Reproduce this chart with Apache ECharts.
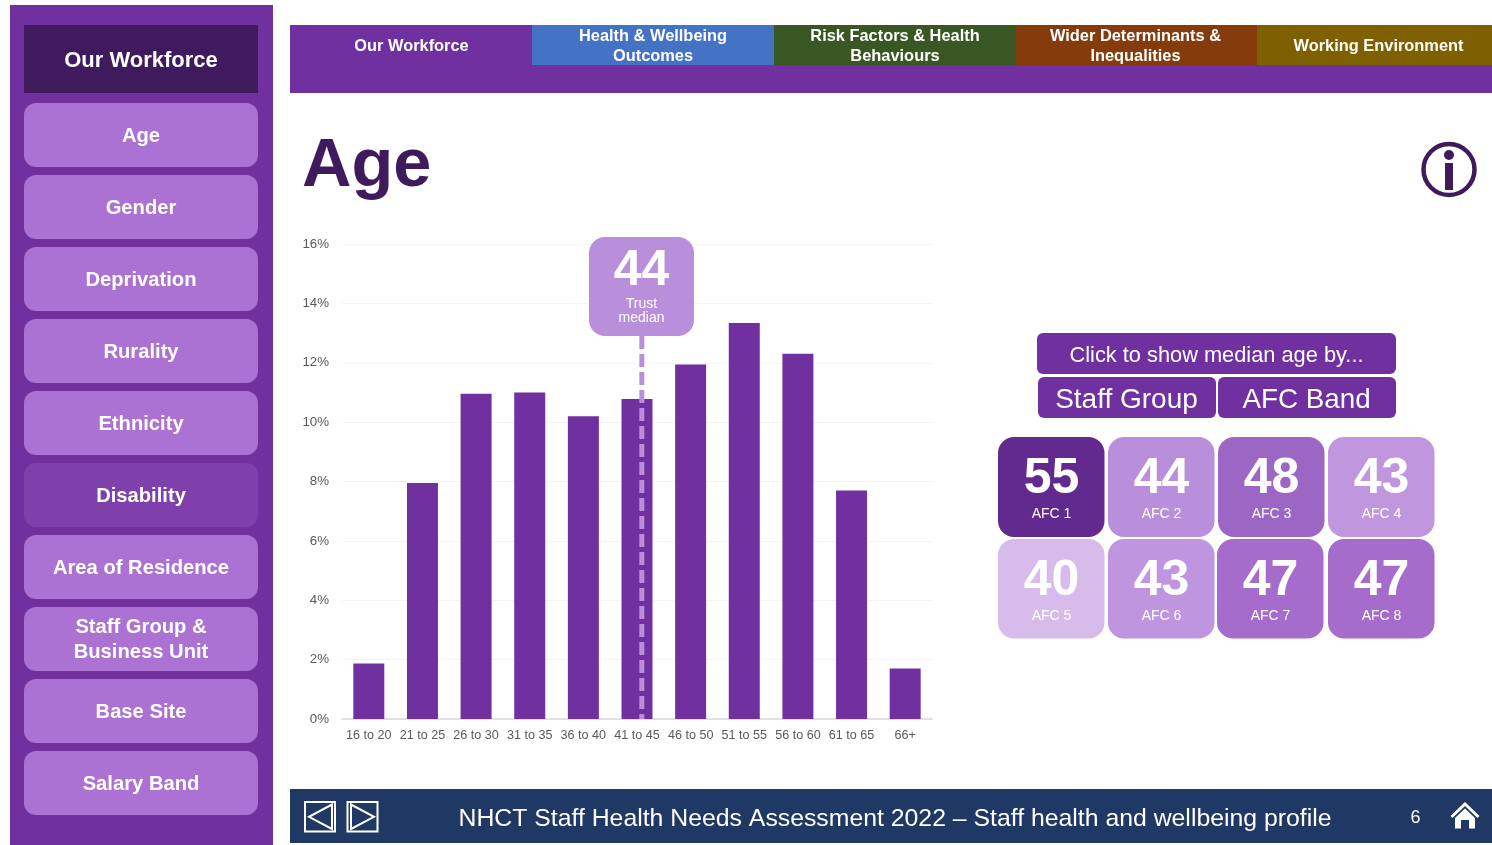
<!DOCTYPE html>
<html>
<head>
<meta charset="utf-8">
<title>Age</title>
<script src="https://cdn.jsdelivr.net/npm/echarts@6/dist/echarts.min.js"></script>
<style>
  html, body { margin: 0; padding: 0; background: #fff; }
  #chart { width: 1492px; height: 845px; }
</style>
</head>
<body>
<div id="chart"></div>
<script>
// chart data
const ageBands = ['16 to 20', '21 to 25', '26 to 30', '31 to 35', '36 to 40', '41 to 45', '46 to 50', '51 to 55', '56 to 60', '61 to 65', '66+'];
const agePercent = [1.87, 7.95, 10.96, 11.0, 10.2, 10.78, 11.94, 13.34, 12.3, 7.7, 1.7];
const trustMedian = 44;
const afcBands = ['AFC 1', 'AFC 2', 'AFC 3', 'AFC 4', 'AFC 5', 'AFC 6', 'AFC 7', 'AFC 8'];
const afcMedians = [55, 44, 48, 43, 40, 43, 47, 47];

// page text
const sideItems = ['Age', 'Gender', 'Deprivation', 'Rurality', 'Ethnicity', 'Disability', 'Area of Residence', 'Staff Group &\nBusiness Unit', 'Base Site', 'Salary Band'];
const tabLabels = ['Our Workforce', 'Health & Wellbeing\nOutcomes', 'Risk Factors & Health\nBehaviours', 'Wider Determinants &\nInequalities', 'Working Environment'];
const footerText = 'NHCT Staff Health Needs Assessment 2022 \u2013 Staff health and wellbeing profile';

// layout and colours
const PURPLE = '#7030a0', DARK = '#3f1b5e', LIGHT = '#ab72d4', NAVY = '#1f3864', FONT = '"Liberation Sans", Arial, sans-serif';
const sideTops = [103, 175, 247, 319, 391, 463, 535, 607, 679, 751];
const tabEdges = [290, 532, 774, 1016, 1257, 1492];
const tabTextX = [411.5, 653, 895, 1135.5, 1378.5];
const tabColors = [PURPLE, '#4472c4', '#385723', '#843c0c', '#7f6000'];
const tileX = [[998, 1108, 1218, 1328], [998, 1108, 1217, 1328]];
const tileColors = ['#622a8e', '#b98edb', '#9c66c4', '#c096df', '#d6bbeb', '#be95de', '#a56ccb', '#a56ccb'];

function box(x, y, w, h, fill, r) {
  return { type: 'rect', shape: { x, y, width: w, height: h, r: r || 0 }, style: { fill } };
}
function label(x, y, text, size, weight, extra) {
  return {
    type: 'text', x, y, z: 5,
    style: Object.assign({ text, fill: '#fff', font: (weight || 'normal') + ' ' + size + 'px ' + FONT, align: 'center', verticalAlign: 'middle', lineHeight: size * 1.2 }, extra || {})
  };
}

const g = [];

// left menu
g.push(box(10, 5, 263, 840, PURPLE));
g.push(box(24, 25, 234, 68, DARK));
g.push(label(141, 60.5, 'Our Workforce', 22, 'bold'));
sideItems.forEach((t, i) => {
  g.push(box(24, sideTops[i], 234, 64, t === 'Disability' ? '#8040ab' : LIGHT, 12));
  g.push(label(141, sideTops[i] + 33, t, 20.2, 'bold', { lineHeight: 25 }));
});

// top tabs
g.push(box(290, 25, 1202, 68, PURPLE));
tabLabels.forEach((t, i) => {
  const w = tabEdges[i + 1] - tabEdges[i];
  g.push(box(tabEdges[i], 25, w, 40, tabColors[i]));
  g.push(label(tabTextX[i], 46, t, 16.4, 'bold', { lineHeight: 20 }));
});

// title and info icon
g.push(label(302, 167, 'Age', 68.5, 'bold', { fill: DARK, align: 'left' }));
g.push({ type: 'circle', shape: { cx: 1449, cy: 169.5, r: 25.5 }, style: { fill: '#fff', stroke: DARK, lineWidth: 4.5 } });
g.push({ type: 'circle', shape: { cx: 1449, cy: 155, r: 5 }, style: { fill: DARK } });
g.push(box(1445, 163, 8, 27, DARK));

// median callout, sits on top of the dashed line
g.push(Object.assign(box(589, 237, 105, 99, '#b98edb', 16), { z: 4 }));
g.push(label(641.5, 271, String(trustMedian), 50, 'bold'));
g.push(label(641.5, 311, 'Trust\nmedian', 14, 'normal', { lineHeight: 14 }));

// median age buttons
g.push(box(1037, 333, 359, 41, PURPLE, 6));
g.push(label(1216.5, 356, 'Click to show median age by...', 21.8));
g.push(box(1038, 377, 178, 41, PURPLE, 6));
g.push(label(1126.5, 400, 'Staff Group', 28));
g.push(box(1218, 377, 178, 41, PURPLE, 6));
g.push(label(1306.5, 400, 'AFC Band', 27.8));

// AFC tiles
afcBands.forEach((band, i) => {
  const row = i < 4 ? 0 : 1;
  const x = tileX[row][i % 4];
  const y = row ? 539 : 437;
  g.push(box(x, y, 106.5, row ? 99.5 : 100, tileColors[i], 16));
  g.push(label(x + 53.5, y + 42, String(afcMedians[i]), 50, 'bold'));
  g.push(label(x + 53.5, y + 77, band, 14));
});

// footer
g.push(box(290, 789, 1202, 54, NAVY));
g.push(label(895, 819, footerText, 24.8));
g.push(label(1415.5, 818.5, '6', 18));
g.push({ type: 'rect', shape: { x: 305, y: 802, width: 30, height: 29.5 }, style: { fill: 'none', stroke: '#fff', lineWidth: 2 } });
g.push({ type: 'polygon', shape: { points: [[332, 804.5], [332, 829], [309, 816.8]] }, style: { fill: 'none', stroke: '#fff', lineWidth: 2 } });
g.push({ type: 'rect', shape: { x: 347.5, y: 802, width: 30, height: 29.5 }, style: { fill: 'none', stroke: '#fff', lineWidth: 2 } });
g.push({ type: 'polygon', shape: { points: [[351, 804.5], [351, 829], [374, 816.8]] }, style: { fill: 'none', stroke: '#fff', lineWidth: 2 } });
// home icon
g.push({ type: 'polyline', shape: { points: [[1451.5, 817], [1465, 804], [1478.5, 817]] }, style: { fill: 'none', stroke: '#fff', lineWidth: 3 } });
g.push({ type: 'polygon', shape: { points: [[1465, 808.5], [1475, 818], [1475, 828.5], [1469, 828.5], [1469, 820], [1461, 820], [1461, 828.5], [1455, 828.5], [1455, 818]] }, style: { fill: '#fff' } });

const chart = echarts.init(document.getElementById('chart'));
chart.setOption({
  animation: false,
  backgroundColor: '#fff',
  grid: { left: 342, right: 560, top: 244, bottom: 126 },
  xAxis: [
    {
      type: 'category',
      data: ageBands,
      axisTick: { show: false },
      axisLine: { lineStyle: { color: '#d9d9d9', width: 1.5 } },
      axisLabel: { color: '#595959', fontSize: 12.6, fontFamily: FONT, margin: 10, interval: 0 }
    },
    // age scale for the median line, each band starts at its lower age
    { type: 'value', min: 16, max: 71.1, show: false }
  ],
  yAxis: {
    type: 'value',
    min: 0,
    max: 16,
    interval: 2,
    axisLine: { show: false },
    axisTick: { show: false },
    axisLabel: { color: '#595959', fontSize: 13.3, fontFamily: FONT, margin: 13, formatter: '{value}%' },
    splitLine: { lineStyle: { color: '#f4f4f4', width: 1 } }
  },
  series: [
    {
      type: 'bar',
      data: agePercent,
      barWidth: 31,
      itemStyle: { color: PURPLE }
    },
    {
      type: 'line',
      xAxisIndex: 1,
      z: 3,
      symbol: 'none',
      data: [[trustMedian, 12.9], [trustMedian, 0]],
      lineStyle: { color: '#b98edb', width: 5, type: [13, 5] }
    }
  ],
  graphic: g
});
</script>
</body>
</html>
